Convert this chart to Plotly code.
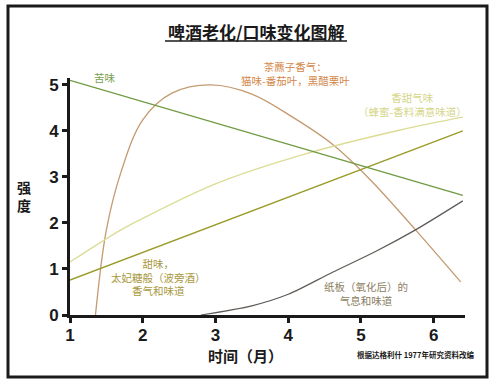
import plotly.graph_objects as go

# Data
bitter_x = [1.0, 6.4]
bitter_y = [5.1, 2.6]

sweet_x = [1.0, 6.4]
sweet_y = [0.76, 4.0]

honey_x = [1.0, 1.7, 2.0, 3.0, 4.19, 5.54, 6.4]
honey_y = [1.15, 1.85, 2.1, 2.85, 3.48, 4.02, 4.3]

ribes_x = [1.35, 1.5, 1.7, 2.0, 2.4, 2.94, 3.5, 4.06, 4.6, 5.12, 5.75, 6.37]
ribes_y = [0.0, 1.85, 3.1, 4.24, 4.82, 5.0, 4.8, 4.3, 3.72, 2.95, 1.85, 0.72]

card_x = [2.8, 3.5, 4.0, 4.61, 5.2, 5.75, 6.4]
card_y = [0.0, 0.2, 0.45, 0.93, 1.38, 1.85, 2.48]

x_ticks = [1, 2, 3, 4, 5, 6]
y_ticks = [0, 1, 2, 3, 4, 5]

CJK = "Noto Sans CJK SC"

fig = go.Figure()
fig.add_trace(go.Scatter(x=ribes_x, y=ribes_y, mode="lines", line=dict(color="#c49a70", width=1.3, shape="spline", smoothing=1.0)))
fig.add_trace(go.Scatter(x=card_x, y=card_y, mode="lines", line=dict(color="#5e5a56", width=1.2, shape="spline", smoothing=0.8)))
fig.add_trace(go.Scatter(x=honey_x, y=honey_y, mode="lines", line=dict(color="#dcdc96", width=1.3, shape="spline")))
fig.add_trace(go.Scatter(x=sweet_x, y=sweet_y, mode="lines", line=dict(color="#9a9a28", width=1.3)))
fig.add_trace(go.Scatter(x=bitter_x, y=bitter_y, mode="lines", line=dict(color="#6e9a40", width=1.3)))

tickfont = dict(family="Liberation Sans", size=17, color="#1a1a1a", weight="bold")

fig.update_layout(
    width=493, height=384,
    margin=dict(l=70, r=28, t=78, b=69),
    paper_bgcolor="white", plot_bgcolor="white",
    showlegend=False,
    xaxis=dict(range=[1, 6.43], tickvals=x_ticks, showgrid=False, zeroline=False,
               showline=True, linecolor="#1a1a1a", linewidth=3,
               ticks="outside", ticklen=5, tickwidth=3, tickcolor="#1a1a1a",
               ticklabelstandoff=-2, tickfont=tickfont),
    yaxis=dict(range=[0, 5.15], tickvals=y_ticks, showgrid=False, zeroline=False,
               showline=True, linecolor="#1a1a1a", linewidth=3,
               ticks="outside", ticklen=5, tickwidth=3, tickcolor="#1a1a1a",
               tickfont=tickfont),
)

W = 395.0
H = 237.0
def px(x):
    return (x - 70) / W
def py(y):
    return (315 - y) / H

shapes = [
    dict(type="rect", xref="paper", yref="paper", x0=px(8), x1=px(487), y0=py(377), y1=py(6),
         line=dict(color="#1a1a1a", width=3)),
    dict(type="line", xref="paper", yref="paper", x0=px(165), x1=px(347), y0=py(41), y1=py(41),
         line=dict(color="#1a1a1a", width=1.5)),
]
fig.update_layout(shapes=shapes)

def ann(text, x, y, color, size=10.5, bold=False, family=CJK):
    fig.add_annotation(text=("<b>%s</b>" % text) if bold else text, xref="paper", yref="paper",
                       x=px(x), y=py(y), showarrow=False, xanchor="center", yanchor="middle",
                       font=dict(family=family, size=size, color=color), align="center")

ann("啤酒老化/口味变化图解", 256, 32, "#1a1a1a", size=17, bold=True)
ann("苦味", 105, 77, "#7a9e4e", size=10.5)
ann("茶藨子香气：<br>猫味-番茄叶，黑醋栗叶", 295, 73, "#d4874a", size=10.5)
ann("香甜气味<br>（蜂蜜-香料满意味道）", 412, 104, "#d6d68a", size=10.5)
ann("甜味，<br>太妃糖般（波旁酒）<br>香气和味道", 158, 277, "#a8983c", size=10.5)
ann("纸板（氧化后）的<br>气息和味道", 366, 293, "#8a7e60", size=10.5)
ann("根据达格利什 1977年研究资料改编", 415, 354, "#1a1a1a", size=7.5, bold=True)
ann("时间（月）", 245, 355, "#1a1a1a", size=15, bold=True)
ann("强<br>度", 24, 196, "#1a1a1a", size=14, bold=True)

fig.write_html("out.html", config={"displayModeBar": False},
               post_script="document.body.style.margin='0px';")
